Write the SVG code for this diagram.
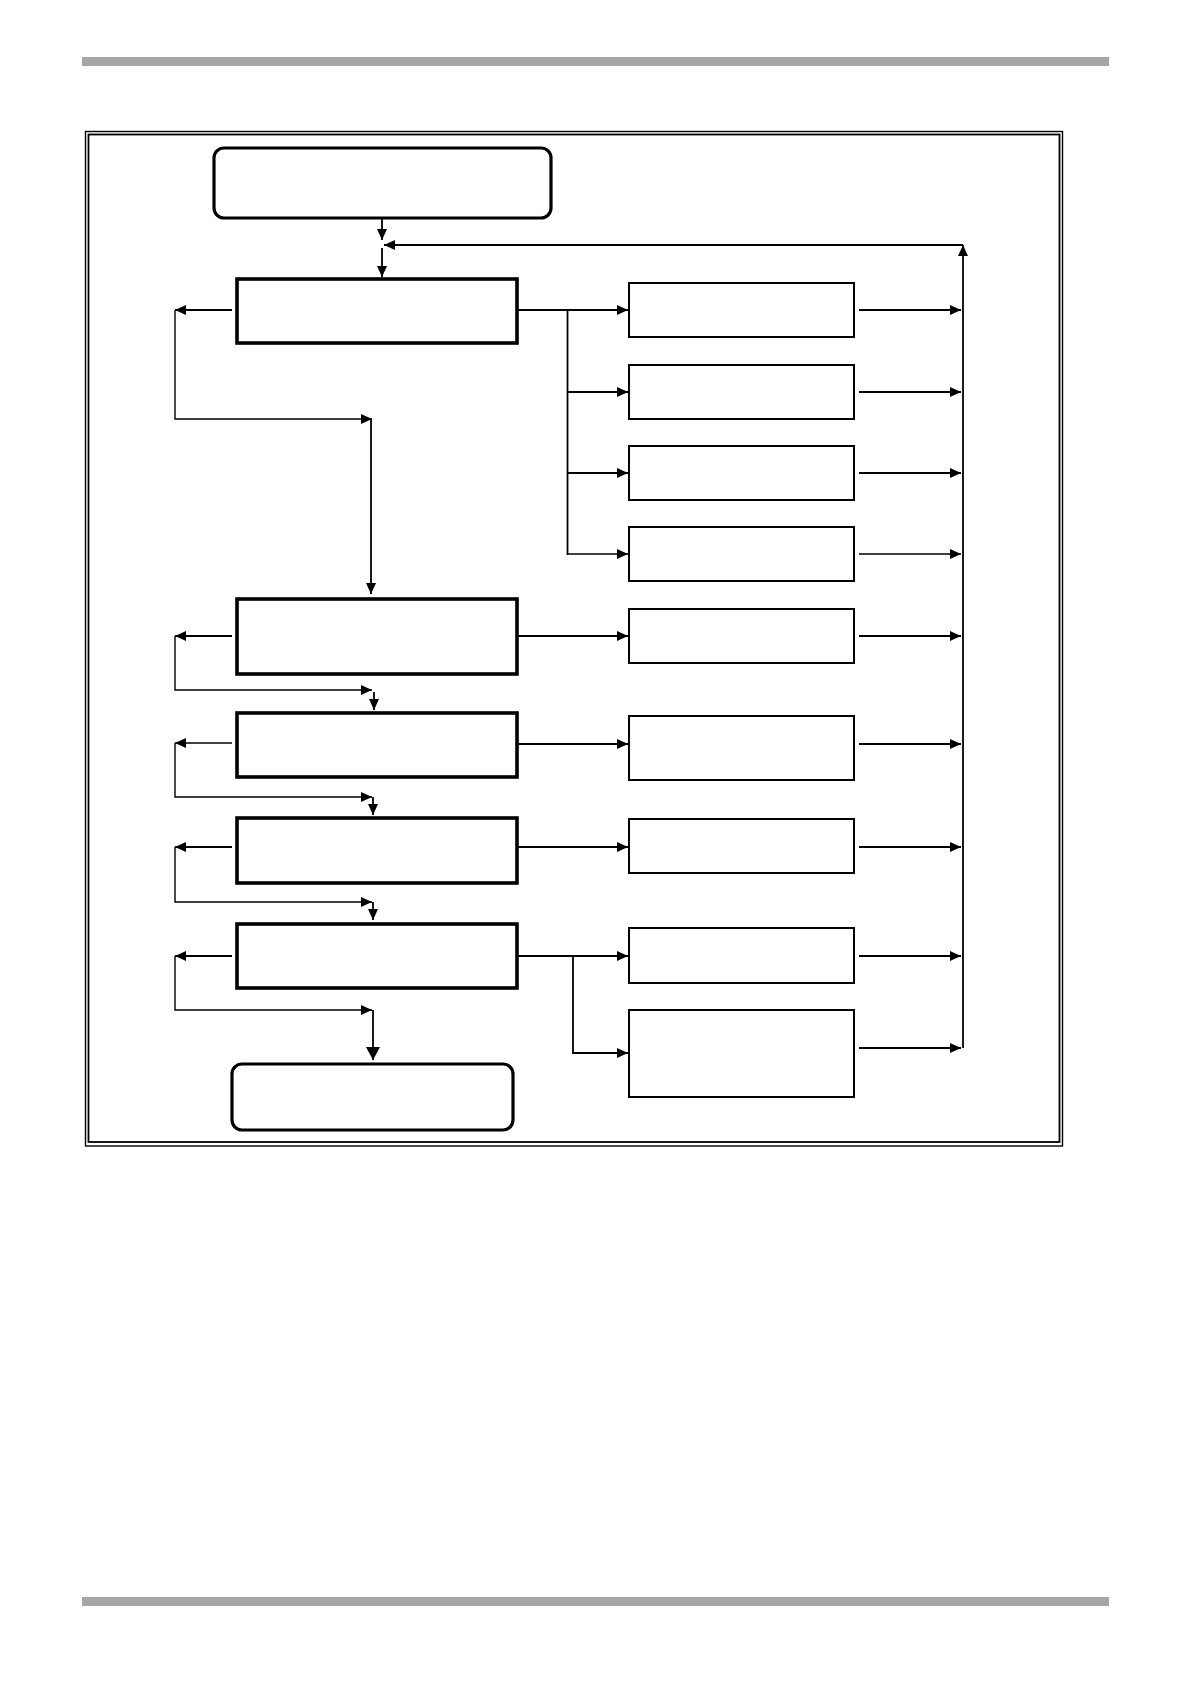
<svg xmlns="http://www.w3.org/2000/svg" width="1190" height="1684" viewBox="0 0 1190 1684">
  <style>
    .bar { fill: #a6a6a6; }
    .frame { fill: none; stroke: #000; }
    .term { fill: #fff; stroke: #000; stroke-width: 3.2; }
    .main { fill: #fff; stroke: #000; stroke-width: 3.6; }
    .sub { fill: #fff; stroke: #000; stroke-width: 2; }
    .c { fill: none; stroke: #000; stroke-width: 1.8; }
    .t { fill: none; stroke: #000; stroke-width: 1.4; }
    .a { marker-end: url(#ah); }
    .ab { marker-end: url(#ahb); }
  </style>
  <defs>
    <marker id="ah" markerUnits="userSpaceOnUse" markerWidth="11" markerHeight="10" refX="11" refY="5" orient="auto">
      <path d="M0,0 L11,5 L0,10 z" fill="#000"/>
    </marker>
    <marker id="ahb" markerUnits="userSpaceOnUse" markerWidth="13" markerHeight="14" refX="13" refY="7" orient="auto">
      <path d="M0,0 L13,7 L0,14 z" fill="#000"/>
    </marker>
  </defs>

  <rect class="bar" x="82" y="57" width="1027" height="9"/>
  <rect class="bar" x="82" y="1597" width="1027" height="9"/>

  <rect class="frame" x="85.5" y="131.5" width="977" height="1014.5" stroke-width="1.4"/>
  <rect class="frame" x="88.5" y="134.5" width="971" height="1007.5" stroke-width="1.8"/>

  <g id="start"><rect class="term" x="214" y="148" width="337" height="70" rx="10"/></g>
  <g id="step1"><rect class="main" x="237" y="279" width="280" height="64"/></g>
  <g id="step2"><rect class="main" x="237" y="599" width="280" height="75"/></g>
  <g id="step3"><rect class="main" x="237" y="713" width="280" height="64"/></g>
  <g id="step4"><rect class="main" x="237" y="818" width="280" height="65"/></g>
  <g id="step5"><rect class="main" x="237" y="924" width="280" height="64"/></g>
  <g id="end"><rect class="term" x="232" y="1064" width="281" height="66" rx="10"/></g>

  <g id="subA"><rect class="sub" x="629" y="283" width="225" height="54"/></g>
  <g id="subB"><rect class="sub" x="629" y="365" width="225" height="54"/></g>
  <g id="subC"><rect class="sub" x="629" y="446" width="225" height="54"/></g>
  <g id="subD"><rect class="sub" x="629" y="527" width="225" height="54"/></g>
  <g id="subE"><rect class="sub" x="629" y="609" width="225" height="54"/></g>
  <g id="subF"><rect class="sub" x="629" y="716" width="225" height="64"/></g>
  <g id="subG"><rect class="sub" x="629" y="819" width="225" height="54"/></g>
  <g id="subH"><rect class="sub" x="629" y="928" width="225" height="55"/></g>
  <g id="subI"><rect class="sub" x="629" y="1010" width="225" height="87"/></g>

  <g id="connectors">
    <!-- start to step1 -->
    <path class="c a" d="M382,218 V240"/>
    <path class="c a" d="M382,248 V277"/>
    <!-- feedback -->
    <path class="c a" d="M963,1048 V245"/>
    <path class="c a" d="M963,245 H384"/>

    <!-- step1 left loop -->
    <path class="c a" d="M232,310 H175"/>
    <path class="t a" d="M175,310 V419 H372"/>
    <path class="c a" d="M371,419 V594"/>
    <!-- step1 right branches -->
    <path class="c a" d="M517,310 H628"/>
    <path class="c" d="M567.5,310 V555"/>
    <path class="c a" d="M567.5,392 H628"/>
    <path class="c a" d="M567.5,473 H628"/>
    <path class="t a" d="M567.5,554 H628"/>

    <!-- outputs to return line -->
    <path class="c a" d="M859,310 H961"/>
    <path class="c a" d="M859,392 H961"/>
    <path class="c a" d="M859,473 H961"/>
    <path class="t a" d="M859,554 H961"/>
    <path class="c a" d="M859,636 H961"/>
    <path class="c a" d="M859,744 H961"/>
    <path class="c a" d="M859,847 H961"/>
    <path class="c a" d="M859,956 H961"/>
    <path class="c a" d="M859,1048 H961"/>

    <!-- step2 -->
    <path class="c a" d="M517,636 H628"/>
    <path class="c a" d="M232,636 H175"/>
    <path class="t a" d="M175,636 V690 H372"/>
    <path class="c a" d="M374,692 V710"/>

    <!-- step3 -->
    <path class="c a" d="M517,744 H628"/>
    <path class="t a" d="M232,743 H175"/>
    <path class="t a" d="M175,743 V797 H372"/>
    <path class="c a" d="M373,797 V815"/>

    <!-- step4 -->
    <path class="c a" d="M517,847 H628"/>
    <path class="c a" d="M232,847 H175"/>
    <path class="t a" d="M175,847 V902 H372"/>
    <path class="c a" d="M373,902 V920"/>

    <!-- step5 -->
    <path class="c a" d="M517,956 H628"/>
    <path class="c a" d="M573,956 V1053 H628"/>
    <path class="c a" d="M232,956 H175"/>
    <path class="t a" d="M175,956 V1010 H372"/>
    <path class="c ab" d="M373,1010 V1060"/>
  </g>
</svg>
